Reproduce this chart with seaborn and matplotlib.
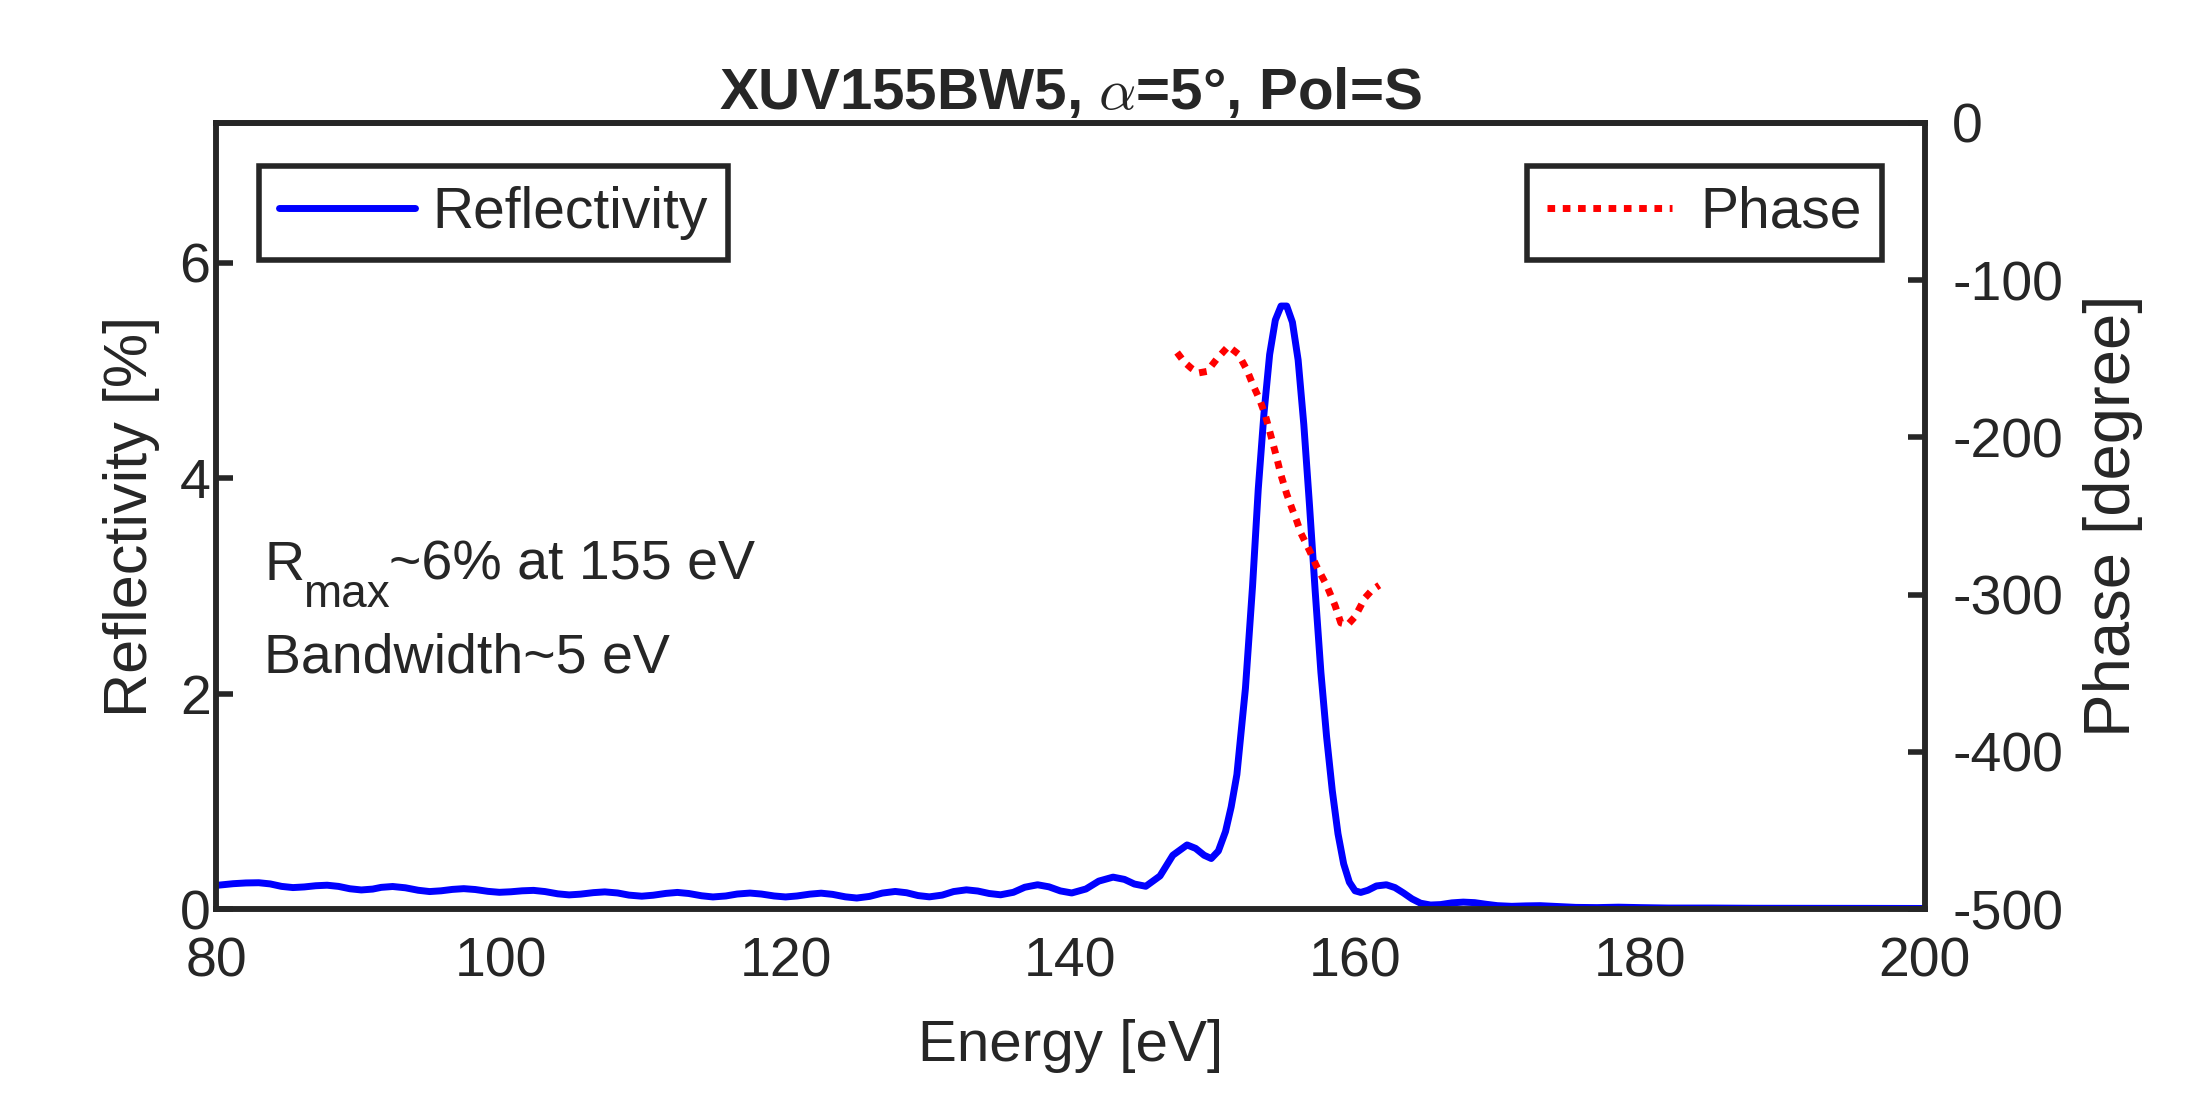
import numpy as np
import pandas as pd
import matplotlib
matplotlib.use('Agg')
import matplotlib.pyplot as plt
from matplotlib.transforms import offset_copy
import seaborn as sns

sns.set_style('white')
plt.rcParams['font.family'] = ['Liberation Sans', 'DejaVu Sans']
plt.rcParams['mathtext.fontset'] = 'cm'
plt.rcParams['axes.unicode_minus'] = False

# reflectivity curve (energy in eV, R in %)
energy = [80.0, 81.2, 82.1, 83.0, 83.8, 84.6, 85.4, 86.2, 87.0, 87.8,
          88.6, 89.4, 90.2, 91.0, 91.6, 92.4, 93.3, 94.2, 95.0, 95.8,
          96.6, 97.4, 98.2, 99.1, 99.9, 100.7, 101.5, 102.3, 103.1, 104.0,
          104.8, 105.6, 106.5, 107.3, 108.2, 109.0, 109.9, 110.7, 111.6, 112.4,
          113.2, 114.1, 114.9, 115.8, 116.6, 117.5, 118.3, 119.2, 120.0, 120.8,
          121.7, 122.5, 123.3, 124.2, 125.0, 125.9, 126.8, 127.7, 128.5, 129.3,
          130.1, 131.0, 131.8, 132.7, 133.5, 134.3, 135.1, 136.0, 136.8, 137.7,
          138.5, 139.3, 140.1, 141.1, 142.0, 143.0, 143.8, 144.5, 145.3, 146.3,
          147.2, 148.2, 148.8, 149.4, 149.9, 150.4, 150.9, 151.3, 151.7, 152.3,
          152.8, 153.2, 153.6, 154.0, 154.4, 154.8, 155.2, 155.6, 156.0, 156.4,
          156.8, 157.2, 157.6, 158.0, 158.4, 158.8, 159.2, 159.6, 160.0, 160.4,
          160.9, 161.5, 162.2, 162.8, 163.4, 164.0, 164.6, 165.3, 166.0, 166.8,
          167.6, 168.4, 169.2, 170.0, 171.0, 172.0, 173.0, 174.0, 175.5, 177.0,
          178.5, 180.0, 182.0, 185.0, 188.0, 192.0, 196.0, 200.0]
reflectivity = [0.220, 0.236, 0.243, 0.245, 0.234, 0.211, 0.200, 0.206, 0.217, 0.222,
                0.211, 0.189, 0.178, 0.186, 0.202, 0.210, 0.198, 0.175, 0.163, 0.170,
                0.183, 0.190, 0.182, 0.165, 0.156, 0.161, 0.170, 0.174, 0.163, 0.142,
                0.132, 0.139, 0.153, 0.160, 0.150, 0.130, 0.120, 0.129, 0.146, 0.155,
                0.145, 0.124, 0.113, 0.122, 0.140, 0.149, 0.140, 0.122, 0.113, 0.122,
                0.139, 0.148, 0.137, 0.114, 0.103, 0.118, 0.149, 0.164, 0.152, 0.126,
                0.114, 0.130, 0.163, 0.179, 0.168, 0.145, 0.133, 0.156, 0.203, 0.226,
                0.207, 0.169, 0.150, 0.187, 0.260, 0.297, 0.276, 0.233, 0.212, 0.308,
                0.500, 0.596, 0.564, 0.500, 0.470, 0.540, 0.720, 0.950, 1.25, 2.05,
                3.00, 3.90, 4.60, 5.15, 5.47, 5.60, 5.60, 5.45, 5.10, 4.50,
                3.75, 2.95, 2.20, 1.60, 1.10, 0.70, 0.42, 0.25, 0.17, 0.155,
                0.175, 0.215, 0.226, 0.200, 0.150, 0.095, 0.055, 0.038, 0.042, 0.058,
                0.065, 0.060, 0.045, 0.032, 0.026, 0.030, 0.032, 0.026, 0.016, 0.014,
                0.018, 0.014, 0.010, 0.010, 0.008, 0.008, 0.007, 0.006]

# phase (degree), only shown around the peak
phase_energy = [147.5, 148.0, 148.5, 149.0, 149.6, 150.3, 151.1, 151.8, 152.4, 152.8,
                153.3, 153.7, 154.0, 154.5, 154.8, 155.2, 155.6, 155.9, 156.2, 156.8,
                157.3, 158.0, 158.6, 159.0, 159.5, 160.0, 160.7, 161.2, 161.7]
phase = [-146, -152, -156, -159, -158, -150, -142, -147, -157, -166,
         -176, -186, -196, -213, -224, -236, -246, -253, -261, -272,
         -282, -294, -307, -318, -319, -314, -302, -297, -294]

df_r = pd.DataFrame({'Energy': energy, 'R': reflectivity})
df_p = pd.DataFrame({'Energy': phase_energy, 'Phase': phase})

axcol = '#262626'
fig = plt.figure(figsize=(21.87, 10.94), dpi=100)
ax = fig.add_axes([0.0988, 0.169, 0.7812, 0.7186])
ax2 = ax.twinx()

sns.lineplot(data=df_r, x='Energy', y='R', ax=ax, color='#0000ff', lw=5,
             label='Reflectivity', legend=False, sort=False)
sns.lineplot(data=df_p, x='Energy', y='Phase', ax=ax2, color='#ff0000', lw=5,
             label='Phase', legend=False, sort=False)
ax2.lines[0].set_dashes((1.1, 1.1))
ax2.lines[0].set_dash_capstyle('butt')

ax.set_xlim(80, 200)
ax.set_ylim(0, 7.3)
ax2.set_ylim(-500, 0)
ax.set_xticks([80, 100, 120, 140, 160, 180, 200])
ax.set_yticks([0, 2, 4, 6])
ax2.set_yticks([-500, -400, -300, -200, -100, 0])

for a in (ax, ax2):
    for s in a.spines.values():
        s.set_linewidth(4)
        s.set_color(axcol)
    a.tick_params(direction='in', length=12, width=4, colors=axcol,
                  labelsize=40, pad=10)
ax.spines['top'].set_color('black')
ax.tick_params(axis='x', pad=20)
ax.tick_params(axis='y', pad=4)
ax2.tick_params(axis='y', pad=20)

ax.set_xlabel('Energy [eV]', fontsize=42, color=axcol, labelpad=22)
ax.set_ylabel('Reflectivity [%]', fontsize=44, color=axcol, labelpad=14)
ax2.set_ylabel('Phase [degree]', fontsize=47, color=axcol, labelpad=14)
ax.set_title(r'XUV155BW5, $\alpha$=5°, Pol=S', fontsize=42, fontweight='bold',
             pad=10)

# annotation: R with a big, low subscript, like the original
fig.canvas.draw()
rend = fig.canvas.get_renderer()
t1 = ax.text(83.4, 3.06, 'R', fontsize=40, va='baseline', ha='left')
w1 = t1.get_window_extent(rend).width
t2 = ax.text(83.4, 3.06, 'max', fontsize=33, va='baseline', ha='left',
             transform=offset_copy(ax.transData, fig=fig, x=w1 - 2, y=-27, units='dots'))
w2 = t2.get_window_extent(rend).width
ax.text(83.4, 3.06, '~6% at 155 eV', fontsize=40, va='baseline', ha='left',
        transform=offset_copy(ax.transData, fig=fig, x=w1 + w2 - 2, y=0, units='dots'))
ax.text(83.4, 2.20, 'Bandwidth~5 eV', fontsize=40, va='baseline', ha='left')

leg1 = ax.legend(loc='upper left', fontsize=41, frameon=True, fancybox=False,
                 borderaxespad=0.75, handlelength=2.4, handletextpad=0.3,
                 borderpad=0.35)
leg2 = ax2.legend(loc='upper right', fontsize=41, frameon=True, fancybox=False,
                  borderaxespad=0.75, handlelength=2.2, handletextpad=0.5,
                  borderpad=0.35)
for lg in (leg1, leg2):
    fr = lg.get_frame()
    fr.set_linewidth(4)
    fr.set_edgecolor(axcol)
    fr.set_alpha(1)

fig.savefig('out.png', dpi=100)
